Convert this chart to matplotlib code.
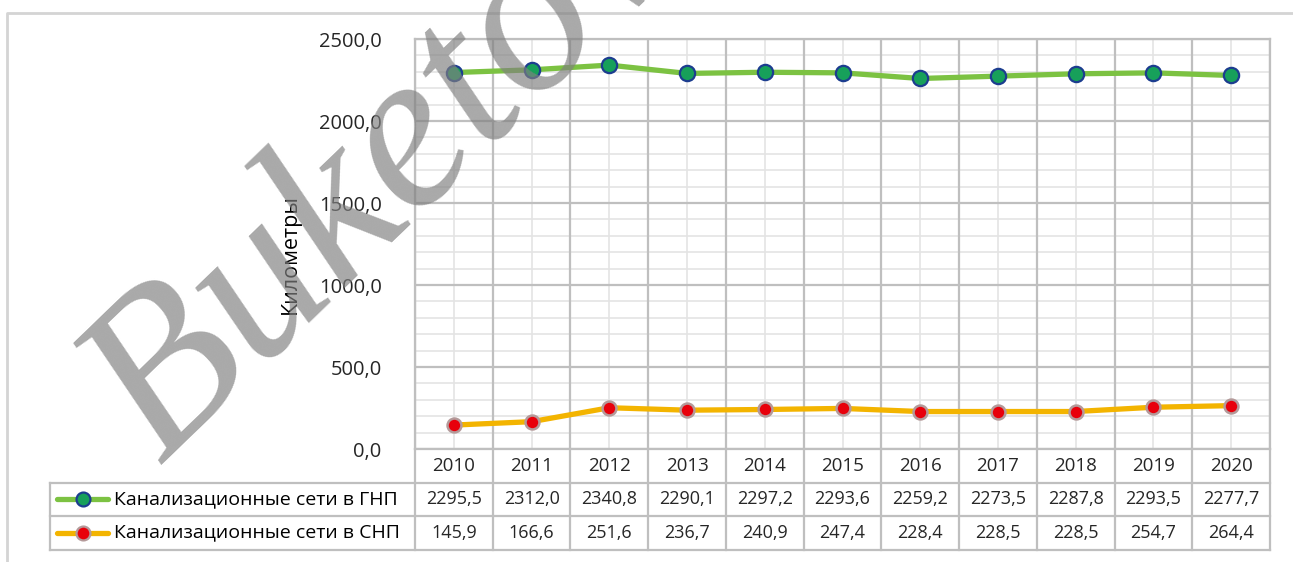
import matplotlib
matplotlib.use("Agg")
import matplotlib.pyplot as plt
from matplotlib.lines import Line2D
import matplotlib.transforms as mtransforms
import numpy as np

years = ["2010", "2011", "2012", "2013", "2014", "2015", "2016", "2017", "2018", "2019", "2020"]
gnp = [2295.5, 2312.0, 2340.8, 2290.1, 2297.2, 2293.6, 2259.2, 2273.5, 2287.8, 2293.5, 2277.7]
snp = [145.9, 166.6, 251.6, 236.7, 240.9, 247.4, 228.4, 228.5, 228.5, 254.7, 264.4]
series_names = ["Канализационные сети в ГНП", "Канализационные сети в СНП"]
y_ticks = [0, 500, 1000, 1500, 2000, 2500]
y_label = "Километры"
watermark = "Buketov"

FONT = ["Open Sans", "DejaVu Sans"]
plt.rcParams['font.family'] = FONT

W, H = 1293, 562
fig = plt.figure(figsize=(W / 100, H / 100), dpi=100)
fig.patch.set_facecolor("white")

def fx(px):
    return px / W

def fy(py):
    return 1 - py / H

ax_l, ax_r, ax_t, ax_b = 415, 1270, 39, 449
ax = fig.add_axes([fx(ax_l), fy(ax_b), fx(ax_r - ax_l), (ax_b - ax_t) / H])

x = np.arange(len(years))
n = len(years)
ax.set_xlim(-0.5, n - 0.5)
ax.set_ylim(0, 2500)

# gridlines
for v in np.arange(0, 2501, 100):
    if v % 500 != 0:
        ax.axhline(v, color="#e4e4e4", lw=1.2, zorder=0)
for v in y_ticks:
    ax.axhline(v, color="#bfbfbf", lw=1.6, zorder=1)
for i in range(n):
    ax.axvline(i, color="#e4e4e4", lw=1.2, zorder=0)
for b in np.arange(-0.5, n, 1.0):
    ax.axvline(b, color="#bfbfbf", lw=1.6, zorder=1)

for s in ax.spines.values():
    s.set_color("#bfbfbf")
    s.set_linewidth(1.6)

green_line = "#7cc242"
yellow_line = "#f3b400"
ax.plot(x, gnp, color=green_line, lw=3.8, marker="o", markersize=11,
        markerfacecolor="#17a05a", markeredgecolor="#1c3d8f", markeredgewidth=1.6, zorder=5,
        solid_capstyle="round")
ax.plot(x, snp, color=yellow_line, lw=3.8, marker="o", markersize=10,
        markerfacecolor="#e8000b", markeredgecolor="#b49a9a", markeredgewidth=1.8, zorder=5,
        solid_capstyle="round")

ax.set_xticks([])
ax.set_yticks(y_ticks)
ax.set_yticklabels([f"{v:.1f}".replace(".", ",") for v in y_ticks], fontsize=14.5, color="#262626")
ax.tick_params(axis="y", length=0, pad=24)

fig.text(fx(290), fy(254), y_label, rotation=90, ha="center", va="center",
         fontsize=15.5, color="#000000")

# data table
trans = mtransforms.blended_transform_factory(ax.transData, fig.transFigure)
row_edges_px = [449, 482.5, 516, 549.5]
left_data = -0.5 - (ax_l - 50) / ((ax_r - ax_l) / n)
tcol = "#bfbfbf"
tlw = 1.6
for ry in row_edges_px[1:]:
    fig.add_artist(Line2D([left_data, n - 0.5], [fy(ry), fy(ry)], transform=trans,
                          color=tcol, lw=tlw))
for b in np.arange(-0.5, n, 1.0):
    fig.add_artist(Line2D([b, b], [fy(449), fy(549.5)], transform=trans, color=tcol, lw=tlw))
fig.add_artist(Line2D([left_data, left_data], [fy(482.5), fy(549.5)], transform=trans,
                      color=tcol, lw=tlw))

def fmt(v):
    return f"{v:.1f}".replace(".", ",")

row_centers = [(row_edges_px[k] + row_edges_px[k + 1]) / 2 for k in range(3)]
for i, yr in enumerate(years):
    t = fig.text(i, fy(row_centers[0]), yr, ha="center", va="center",
                 fontsize=13.5, color="#262626")
    t.set_transform(trans)
for i, v in enumerate(gnp):
    t = fig.text(i, fy(row_centers[1]), fmt(v), ha="center", va="center",
                 fontsize=13, color="#262626")
    t.set_transform(trans)
for i, v in enumerate(snp):
    t = fig.text(i, fy(row_centers[2]), fmt(v), ha="center", va="center",
                 fontsize=13, color="#262626")
    t.set_transform(trans)

# legend keys in table
leg_specs = [
    (green_line, "#17a05a", "#1c3d8f"),
    (yellow_line, "#e8000b", "#b49a9a"),
]
for k, (lc, mf, me) in enumerate(leg_specs):
    yc = fy(row_centers[k + 1])
    fig.add_artist(Line2D([fx(57), fx(108)], [yc, yc], color=lc, lw=3.8,
                          solid_capstyle="round"))
    fig.add_artist(Line2D([fx(82.5)], [yc], marker="o", markersize=10,
                          markerfacecolor=mf, markeredgecolor=me, markeredgewidth=1.6,
                          linestyle="none"))
    fig.text(fx(114), yc, series_names[k], ha="left", va="center", fontsize=14,
             color="#000000")

# chart border
fig.add_artist(Line2D([fx(6.5), fx(6.5), fx(1293)], [fy(562), fy(12.5), fy(12.5)],
                      color="#d4d4d4", lw=2))

# watermark
fig.text(fx(384), fy(172), watermark, rotation=44, ha="center", va="center",
         fontsize=163, family="Liberation Serif", style="italic",
         color="#808080", alpha=0.68, zorder=20)

fig.savefig("out.png", dpi=100, facecolor="white")
